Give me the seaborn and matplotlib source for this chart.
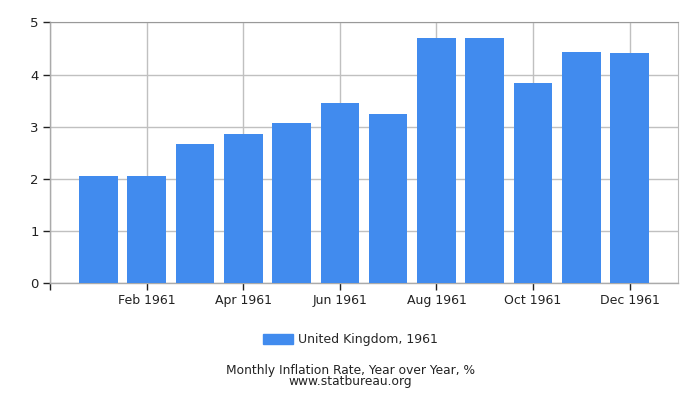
import matplotlib
matplotlib.use("Agg")
import matplotlib.pyplot as plt
import matplotlib.patches as mpatches
import pandas as pd
import seaborn as sns

# ==================================================
# DATA
# ==================================================

months = ["Jan 1961", "Feb 1961", "Mar 1961", "Apr 1961", "May 1961", "Jun 1961",
          "Jul 1961", "Aug 1961", "Sep 1961", "Oct 1961", "Nov 1961", "Dec 1961"]
rates = [2.05, 2.05, 2.67, 2.86, 3.07, 3.45, 3.24, 4.70, 4.70, 3.84, 4.43, 4.41]

tick_labels = ["", "Feb 1961", "Apr 1961", "Jun 1961", "Aug 1961", "Oct 1961", "Dec 1961"]
y_ticks = [0, 1, 2, 3, 4, 5]

series_name = "United Kingdom, 1961"
title_line = "Monthly Inflation Rate, Year over Year, %"
source_line = "www.statbureau.org"

BAR_COLOR = "#418bee"
GRID_COLOR = "#c0c0c0"

df = pd.DataFrame({"month": months, "rate": rates})

# ==================================================
# PLOT
# ==================================================

sns.set_style("white")
plt.rcParams["font.family"] = ["DejaVu Sans"]

fig = plt.figure(figsize=(7, 4), dpi=100)
ax = fig.add_axes([50 / 700, 1 - 283.3 / 400, 628 / 700, 261 / 400])

sns.barplot(
    data=df,
    x="month",
    y="rate",
    color=BAR_COLOR,
    saturation=1,
    width=0.8,
    linewidth=0,
    edgecolor="none",
    ax=ax,
    zorder=3
)

ax.set_xlim(-1, 12)
ax.set_ylim(0, 5)
ax.set_xticks([-1, 1, 3, 5, 7, 9, 11])
ax.set_xticklabels(tick_labels, fontsize=9, color="#222222")
ax.set_yticks(y_ticks)
ax.set_yticklabels([str(v) for v in y_ticks], fontsize=9.5, color="#222222")
ax.set_xlabel("")
ax.set_ylabel("")

ax.grid(True, color=GRID_COLOR, linewidth=1, zorder=0)
ax.set_axisbelow(True)

ax.spines["top"].set_color("#999999")
ax.spines["right"].set_color("#bbbbbb")
for side in ["left", "bottom"]:
    ax.spines[side].set_color("#aaaaaa")
    ax.spines[side].set_linewidth(1)

ax.tick_params(axis="both", length=5, width=1, color="#222222", pad=3,
               bottom=True, left=True)

handle = mpatches.Patch(color=BAR_COLOR, label=series_name)
fig.legend(
    handles=[handle],
    loc="center",
    bbox_to_anchor=(0.5, 1 - 340 / 400),
    frameon=False,
    fontsize=9,
    handlelength=2.4,
    handleheight=0.8,
    handletextpad=0.4
)

fig.text(0.5, 1 - 370.5 / 400, title_line, ha="center", va="center",
         fontsize=8.8, color="#222222")
fig.text(0.5, 1 - 382 / 400, source_line, ha="center", va="center",
         fontsize=8.8, color="#222222")

fig.savefig("out.png", dpi=100)
plt.close(fig)
